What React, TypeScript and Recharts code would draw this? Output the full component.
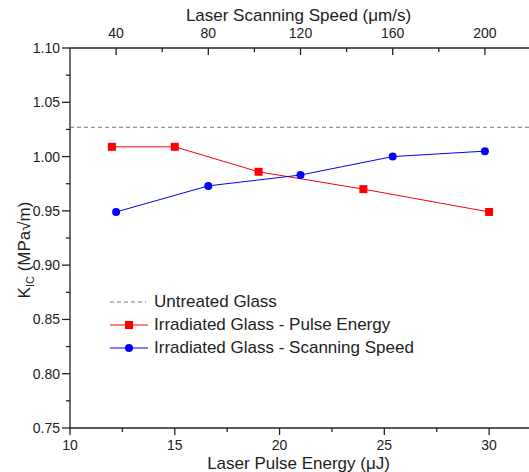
import React from "react";
import { LineChart, Line, XAxis, YAxis, ReferenceLine, Legend } from "recharts";

// values
const pulseEnergy = [12, 15, 19, 24, 30];
const pulseKic = [1.009, 1.009, 0.986, 0.970, 0.949];
const scanSpeed = [40, 80, 120, 160, 200];
const scanKic = [0.949, 0.973, 0.983, 1.0, 1.005];
const untreatedKic = 1.027;

const energyTicks = [10, 12.5, 15, 17.5, 20, 22.5, 25, 27.5, 30];
const speedTicks = [40, 60, 80, 100, 120, 140, 160, 180, 200];
const kicTicks = [0.75, 0.775, 0.8, 0.825, 0.85, 0.875, 0.9, 0.925, 0.95, 0.975, 1.0, 1.025, 1.05, 1.075, 1.1];

const pulseData = pulseEnergy.map((e, i) => ({ energy: e, kic: pulseKic[i] }));
const scanData = scanSpeed.map((s, i) => ({ speed: s, kic: scanKic[i] }));

const FONT = "'Liberation Sans', Arial, sans-serif";
const INK = "#222";

const BottomTick = (p: any) => {
  const v = p.payload.value;
  const major = v % 5 === 0;
  return (
    <g>
      <line x1={p.x} x2={p.x} y1={p.y} y2={p.y + (major ? 7 : 4)} stroke={INK} strokeWidth={1.3} />
      {major && (
        <text x={p.x} y={p.y + 22} textAnchor="middle" fontSize={14} fill={INK} fontFamily={FONT}>{v}</text>
      )}
    </g>
  );
};

const TopTick = (p: any) => {
  const v = p.payload.value;
  const major = v % 40 === 0;
  return (
    <g>
      <line x1={p.x} x2={p.x} y1={p.y} y2={p.y + (major ? 7 : 4)} stroke={INK} strokeWidth={1.3} />
      {major && (
        <text x={p.x} y={p.y - 10} textAnchor="middle" fontSize={14} fill={INK} fontFamily={FONT}>{v}</text>
      )}
    </g>
  );
};

const LeftTick = (p: any) => {
  const v = p.payload.value;
  const major = Math.abs(Math.round(v * 20) - v * 20) < 1e-6;
  return (
    <g>
      <line x1={p.x - (major ? 8 : 4)} x2={p.x} y1={p.y} y2={p.y} stroke={INK} strokeWidth={1.3} />
      {major && (
        <text x={p.x - 10} y={p.y + 5} textAnchor="end" fontSize={14} fill={INK} fontFamily={FONT}>{v.toFixed(2)}</text>
      )}
    </g>
  );
};

const BottomTitle = (p: any) => {
  const vb = p.viewBox;
  return (
    <text x={vb.x + vb.width / 2 - 2} y={vb.y + 41} textAnchor="middle" fontSize={17} fill={INK} fontFamily={FONT}>
      Laser Pulse Energy (μJ)
    </text>
  );
};

const TopTitle = (p: any) => {
  const vb = p.viewBox;
  return (
    <text x={vb.x + vb.width / 2 - 2} y={vb.y + 21} textAnchor="middle" fontSize={17} fill={INK} fontFamily={FONT}>
      Laser Scanning Speed (μm/s)
    </text>
  );
};

const Square = (p: any) => (
  <rect key={`sq-${p.index}`} x={p.cx - 4} y={p.cy - 4} width={8} height={8} fill="#ff0000" />
);

const legendRows = [
  { name: "Untreated Glass", kind: "dash" },
  { name: "Irradiated Glass - Pulse Energy", kind: "square" },
  { name: "Irradiated Glass - Scanning Speed", kind: "circle" },
];

const LegendBox = () => (
  <div style={{ fontFamily: FONT, fontSize: 17, color: INK }}>
    {legendRows.map((r) => (
      <div key={r.name} style={{ display: "flex", alignItems: "center", height: 23 }}>
        <svg width={38} height={16} style={{ marginRight: 6 }}>
          {r.kind === "dash" && <line x1={0} x2={36} y1={8} y2={8} stroke="#777" strokeDasharray="4 3" />}
          {r.kind === "square" && (
            <g>
              <line x1={0} x2={38} y1={8} y2={8} stroke="#ff0000" />
              <rect x={15} y={4} width={8} height={8} fill="#ff0000" />
            </g>
          )}
          {r.kind === "circle" && (
            <g>
              <line x1={0} x2={38} y1={8} y2={8} stroke="#0000ff" />
              <circle cx={19} cy={8} r={4} fill="#0000ff" />
            </g>
          )}
        </svg>
        <span>{r.name}</span>
      </div>
    ))}
  </div>
);

export default function App() {
  return (
    <div style={{ position: "relative", width: 529, height: 472, overflow: "hidden", background: "#fff" }}>
      <style>{"body{margin:0}"}</style>
      <LineChart width={532} height={472} margin={{ top: 0, right: 1, bottom: 0, left: 0 }}>
        <XAxis
          xAxisId="energy"
          dataKey="energy"
          type="number"
          orientation="bottom"
          domain={[10, 32]}
          ticks={energyTicks}
          interval={0}
          height={44}
          tickSize={0}
          tickMargin={0}
          tickLine={false}
          tick={BottomTick}
          axisLine={{ stroke: INK, strokeWidth: 1.3 }}
          label={BottomTitle}
          allowDataOverflow
        />
        <XAxis
          xAxisId="speed"
          dataKey="speed"
          type="number"
          orientation="top"
          domain={[20, 220]}
          ticks={speedTicks}
          interval={0}
          height={48}
          tickSize={0}
          tickMargin={0}
          tickLine={false}
          tick={TopTick}
          axisLine={{ stroke: INK, strokeWidth: 1.3 }}
          label={TopTitle}
          allowDataOverflow
        />
        <YAxis
          type="number"
          domain={[0.75, 1.1]}
          ticks={kicTicks}
          interval={0}
          width={70}
          tickSize={0}
          tickMargin={0}
          tickLine={false}
          tick={LeftTick}
          axisLine={{ stroke: INK, strokeWidth: 1.3 }}
          allowDataOverflow
        />
        <ReferenceLine xAxisId="energy" y={untreatedKic} stroke="#777" strokeDasharray="4 3" strokeWidth={1} />
        <Line
          xAxisId="energy"
          data={pulseData}
          dataKey="kic"
          stroke="#ff0000"
          strokeWidth={1}
          dot={Square}
          activeDot={false}
          isAnimationActive={false}
        />
        <Line
          xAxisId="speed"
          data={scanData}
          dataKey="kic"
          stroke="#0000ff"
          strokeWidth={1}
          dot={{ r: 4, fill: "#0000ff", stroke: "#0000ff", strokeWidth: 0 }}
          activeDot={false}
          isAnimationActive={false}
        />
        <Legend
          layout="vertical"
          align="center"
          verticalAlign="middle"
          content={LegendBox}
          wrapperStyle={{ left: 110, top: 290, width: 360 }}
        />
      </LineChart>
      <div
        style={{
          position: "absolute",
          left: 25,
          top: 250,
          transform: "translate(-50%, -50%) rotate(-90deg)",
          whiteSpace: "nowrap",
          fontFamily: FONT,
          fontSize: 17,
          lineHeight: "20px",
          color: INK,
        }}
      >
        K<span style={{ fontSize: 11, position: "relative", top: 4 }}>IC</span> (MPa√m)
      </div>
    </div>
  );
}
